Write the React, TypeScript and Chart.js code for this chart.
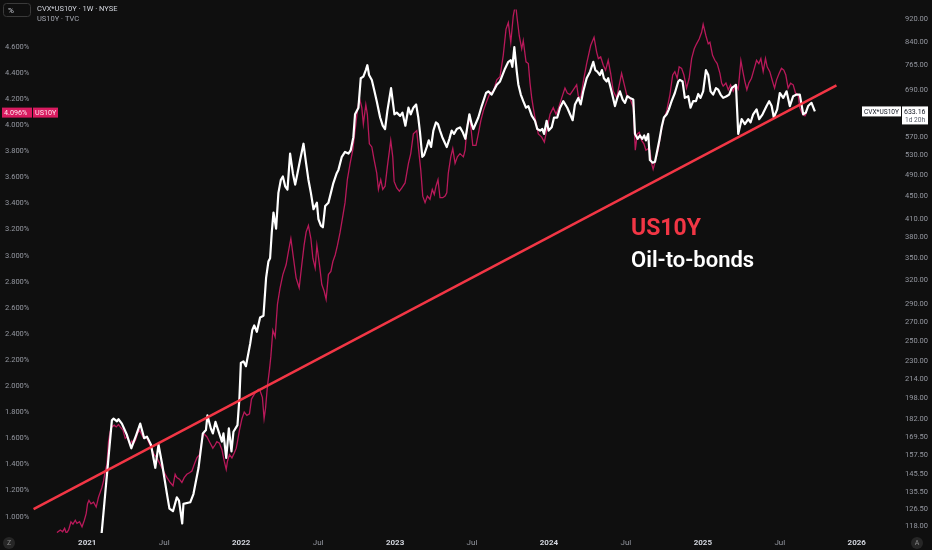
import React, { useEffect, useRef } from "react";
import { Chart, registerables } from "chart.js";

Chart.register(...registerables);

const BG = "#0f0f0f";

// ---- time axis ----
const xTickValues = [2021, 2021.5, 2022, 2022.5, 2023, 2023.5, 2024, 2024.5, 2025, 2025.5, 2026];
const xTickLabels = ["2021", "Jul", "2022", "Jul", "2023", "Jul", "2024", "Jul", "2025", "Jul", "2026"];

// ---- left axis (US10Y, %) ----
const yieldTicks = [1.0, 1.2, 1.4, 1.6, 1.8, 2.0, 2.2, 2.4, 2.6, 2.8, 3.0, 3.2, 3.4, 3.6, 3.8, 4.0, 4.2, 4.4, 4.6];

// ---- right axis (CVX*US10Y, log) ----
const ratioTicks = [920, 840, 765, 690, 570, 530, 490, 450, 410, 380, 350, 320, 290, 270, 250, 230, 214, 198, 182, 169.5, 157.5, 145.5, 135.5, 126.5, 118];

// ---- CVX*US10Y weekly (decimal year, value) ----
const ratioWeeks = [
  2021.078, 2021.160, 2021.171, 2021.193, 2021.203, 2021.225, 2021.258, 2021.286, 2021.318, 2021.344,
  2021.370, 2021.388, 2021.414, 2021.442, 2021.463, 2021.487, 2021.518, 2021.534, 2021.557, 2021.582,
  2021.596, 2021.617, 2021.625, 2021.669, 2021.690, 2021.723, 2021.751, 2021.771, 2021.781, 2021.803,
  2021.816, 2021.833, 2021.875, 2021.885, 2021.903, 2021.920, 2021.937, 2021.950, 2021.976, 2021.989,
  2021.998, 2022.015, 2022.031, 2022.059, 2022.072, 2022.085, 2022.102, 2022.123, 2022.145, 2022.162,
  2022.177, 2022.188, 2022.199, 2022.210, 2022.227, 2022.242, 2022.258, 2022.271, 2022.286, 2022.301,
  2022.318, 2022.336, 2022.351, 2022.366, 2022.383, 2022.405, 2022.422, 2022.437, 2022.453, 2022.470,
  2022.481, 2022.492, 2022.502, 2022.518, 2022.531, 2022.546, 2022.567, 2022.583, 2022.599, 2022.621,
  2022.632, 2022.654, 2022.675, 2022.697, 2022.712, 2022.729, 2022.740, 2022.762, 2022.777, 2022.794,
  2022.810, 2022.820, 2022.831, 2022.849, 2022.864, 2022.881, 2022.903, 2022.920, 2022.935, 2022.950,
  2022.974, 2022.996, 2023.011, 2023.033, 2023.048, 2023.067, 2023.087, 2023.102, 2023.119, 2023.137,
  2023.151, 2023.162, 2023.177, 2023.188, 2023.206, 2023.219, 2023.234, 2023.249, 2023.266, 2023.279,
  2023.292, 2023.307, 2023.336, 2023.353, 2023.368, 2023.383, 2023.401, 2023.422, 2023.440, 2023.457,
  2023.483, 2023.498, 2023.509, 2023.541, 2023.563, 2023.591, 2023.606, 2023.628, 2023.661, 2023.682,
  2023.715, 2023.736, 2023.752, 2023.762, 2023.775, 2023.791, 2023.801, 2023.817, 2023.833, 2023.851,
  2023.866, 2023.888, 2023.909, 2023.924, 2023.942, 2023.957, 2023.968, 2023.985, 2023.998, 2024.018,
  2024.033, 2024.054, 2024.072, 2024.093, 2024.119, 2024.137, 2024.154, 2024.169, 2024.191, 2024.206,
  2024.223, 2024.245, 2024.267, 2024.288, 2024.301, 2024.314, 2024.331, 2024.344, 2024.357, 2024.375,
  2024.385, 2024.401, 2024.414, 2024.429, 2024.444, 2024.461, 2024.479, 2024.494, 2024.509, 2024.526,
  2024.548, 2024.559, 2024.576, 2024.591, 2024.606, 2024.619, 2024.630, 2024.645, 2024.656, 2024.674,
  2024.689, 2024.700, 2024.717, 2024.732, 2024.747, 2024.765, 2024.779, 2024.797, 2024.818, 2024.840,
  2024.851, 2024.868, 2024.883, 2024.905, 2024.920, 2024.937, 2024.955, 2024.970, 2024.985, 2025.002,
  2025.020, 2025.035, 2025.050, 2025.067, 2025.085, 2025.100, 2025.115, 2025.132, 2025.154, 2025.171,
  2025.187, 2025.202, 2025.215, 2025.230, 2025.252, 2025.273, 2025.295, 2025.310, 2025.327, 2025.349,
  2025.366, 2025.388, 2025.414, 2025.431, 2025.447, 2025.461, 2025.483, 2025.500, 2025.522, 2025.544,
  2025.565, 2025.587, 2025.609, 2025.630, 2025.652, 2025.669, 2025.684, 2025.706, 2025.728,
];
const ratioValues = [
  103.1, 181.1, 182.3, 180.4, 181.9, 178.7, 170.6, 161.7, 170.6, 178.7,
  168.4, 169.5, 164.0, 149.4, 164.0, 151.4, 134.3, 126.6, 125.3, 132.5,
  130.8, 119.2, 129.1, 129.9, 134.3, 149.4, 171.7, 174.1, 184.7, 175.2,
  171.7, 179.9, 166.1, 171.7, 155.5, 175.2, 159.6, 172.9, 177.6, 198.7,
  228.4, 230.0, 225.5, 247.3, 261.0, 266.0, 259.2, 274.8, 276.6, 322.5,
  344.5, 349.2, 388.1, 420.4, 393.8, 455.2, 480.1, 486.5, 467.5, 461.4,
  533.8, 493.0, 470.6, 493.0, 519.9, 555.5, 512.9, 480.1, 455.2, 426.0,
  431.7, 437.5, 409.4, 398.7, 396.0, 431.7, 437.5, 455.2, 473.7, 493.0,
  499.6, 526.8, 537.4, 533.8, 541.0, 570.4, 625.9, 642.8, 724.3, 729.2,
  748.6, 763.7, 734.0, 719.4, 691.4, 660.0, 617.7, 597.6, 589.6, 634.4,
  696.0, 625.9, 630.1, 621.8, 630.1, 597.6, 642.8, 625.9, 642.8, 651.3,
  617.7, 581.9, 526.8, 530.4, 548.2, 563.0, 548.2, 585.9, 605.5, 601.4,
  585.9, 570.4, 548.2, 566.6, 585.9, 578.0, 589.6, 593.6, 581.9, 566.6,
  625.9, 601.4, 589.6, 617.7, 647.1, 682.3, 686.9, 677.9, 705.2, 714.9,
  753.7, 774.1, 779.0, 758.8, 821.6, 743.9, 706.3, 677.9, 660.0, 642.8,
  647.1, 622.6, 609.6, 589.6, 585.9, 589.6, 578.0, 609.6, 585.9, 593.6,
  617.7, 617.7, 642.8, 660.0, 642.8, 625.9, 611.0, 651.3, 668.9, 651.3,
  686.9, 724.3, 743.9, 774.1, 748.6, 743.9, 734.0, 748.6, 724.3, 714.9,
  724.3, 696.0, 673.4, 647.1, 668.9, 686.9, 664.4, 655.7, 673.4, 668.9,
  664.4, 578.0, 566.6, 574.3, 566.6, 574.3, 563.0, 578.0, 519.9, 514.3,
  516.4, 533.8, 563.0, 593.6, 617.7, 625.9, 638.5, 660.0, 682.3, 714.9,
  719.4, 714.9, 668.9, 673.4, 642.8, 660.0, 660.0, 679.6, 668.9, 686.9,
  748.6, 734.0, 686.9, 677.9, 696.0, 691.4, 677.9, 668.9, 673.4, 677.9,
  696.0, 700.7, 705.2, 578.0, 613.6, 601.4, 613.6, 605.5, 625.9, 638.5,
  613.6, 625.9, 647.1, 660.0, 647.1, 617.7, 638.5, 682.3, 668.9, 686.9,
  647.1, 673.4, 677.9, 677.9, 625.9, 630.1, 647.1, 655.7, 633.16,
];

// ---- US10Y weekly (decimal year, %) ----
const yieldWeeks = [
  2020.803, 2020.825, 2020.840, 2020.853, 2020.864, 2020.879, 2020.894, 2020.907, 2020.922, 2020.933,
  2020.950, 2020.966, 2020.981, 2020.993, 2021.002, 2021.011, 2021.024, 2021.041, 2021.058, 2021.073,
  2021.084, 2021.095, 2021.106, 2021.117, 2021.128, 2021.138, 2021.149, 2021.160, 2021.175, 2021.188,
  2021.203, 2021.214, 2021.232, 2021.247, 2021.258, 2021.279, 2021.290, 2021.301, 2021.314, 2021.327,
  2021.340, 2021.355, 2021.366, 2021.383, 2021.398, 2021.420, 2021.435, 2021.453, 2021.474, 2021.495,
  2021.518, 2021.539, 2021.557, 2021.571, 2021.582, 2021.599, 2021.615, 2021.630, 2021.647, 2021.664,
  2021.680, 2021.695, 2021.712, 2021.729, 2021.745, 2021.755, 2021.777, 2021.799, 2021.816, 2021.831,
  2021.842, 2021.859, 2021.875, 2021.890, 2021.903, 2021.911, 2021.924, 2021.940, 2021.955, 2021.968,
  2021.976, 2021.989, 2022.005, 2022.020, 2022.037, 2022.054, 2022.067, 2022.080, 2022.093, 2022.112,
  2022.123, 2022.138, 2022.149, 2022.158, 2022.171, 2022.184, 2022.193, 2022.206, 2022.221, 2022.236,
  2022.253, 2022.271, 2022.292, 2022.307, 2022.323, 2022.340, 2022.357, 2022.377, 2022.394, 2022.409,
  2022.422, 2022.437, 2022.453, 2022.466, 2022.481, 2022.492, 2022.509, 2022.524, 2022.539, 2022.552,
  2022.567, 2022.583, 2022.596, 2022.611, 2022.626, 2022.643, 2022.661, 2022.675, 2022.690, 2022.708,
  2022.725, 2022.740, 2022.755, 2022.768, 2022.784, 2022.794, 2022.810, 2022.820, 2022.833, 2022.849,
  2022.864, 2022.881, 2022.892, 2022.907, 2022.920, 2022.935, 2022.950, 2022.972, 2022.985, 2022.994,
  2023.011, 2023.028, 2023.044, 2023.065, 2023.087, 2023.102, 2023.119, 2023.141, 2023.151, 2023.167,
  2023.180, 2023.195, 2023.210, 2023.227, 2023.242, 2023.255, 2023.266, 2023.279, 2023.292, 2023.310,
  2023.325, 2023.336, 2023.346, 2023.362, 2023.375, 2023.390, 2023.405, 2023.422, 2023.444, 2023.455,
  2023.470, 2023.487, 2023.505, 2023.526, 2023.541, 2023.557, 2023.574, 2023.596, 2023.617, 2023.639,
  2023.661, 2023.682, 2023.703, 2023.721, 2023.736, 2023.752, 2023.768, 2023.783, 2023.794, 2023.807,
  2023.823, 2023.833, 2023.851, 2023.866, 2023.877, 2023.888, 2023.898, 2023.909, 2023.931, 2023.953,
  2023.970, 2023.985, 2024.007, 2024.028, 2024.046, 2024.063, 2024.083, 2024.104, 2024.119, 2024.137,
  2024.158, 2024.180, 2024.191, 2024.206, 2024.227, 2024.245, 2024.271, 2024.293, 2024.310, 2024.321,
  2024.336, 2024.353, 2024.368, 2024.385, 2024.401, 2024.418, 2024.440, 2024.457, 2024.472, 2024.487,
  2024.505, 2024.526, 2024.548, 2024.561, 2024.574, 2024.587, 2024.602, 2024.617, 2024.630, 2024.645,
  2024.656, 2024.667, 2024.677, 2024.693, 2024.710, 2024.726, 2024.743, 2024.765, 2024.786, 2024.804,
  2024.818, 2024.833, 2024.846, 2024.862, 2024.877, 2024.894, 2024.911, 2024.927, 2024.944, 2024.959,
  2024.976, 2024.992, 2025.002, 2025.020, 2025.035, 2025.046, 2025.063, 2025.078, 2025.093, 2025.111,
  2025.122, 2025.132, 2025.150, 2025.165, 2025.180, 2025.197, 2025.215, 2025.230, 2025.247, 2025.260,
  2025.273, 2025.286, 2025.299, 2025.316, 2025.331, 2025.349, 2025.364, 2025.377, 2025.392, 2025.407,
  2025.418, 2025.435, 2025.453, 2025.466, 2025.479, 2025.496, 2025.511, 2025.526, 2025.539, 2025.554,
  2025.570, 2025.587, 2025.602, 2025.619, 2025.630, 2025.648, 2025.663, 2025.674,
];
const yieldValues = [
  0.878, 0.898, 0.885, 0.911, 0.873, 0.898, 0.961, 0.943, 0.973, 0.949,
  0.961, 0.923, 0.973, 1.024, 1.099, 1.124, 1.099, 1.111, 1.074, 1.149,
  1.186, 1.224, 1.275, 1.350, 1.400, 1.575, 1.651, 1.688, 1.701, 1.688,
  1.706, 1.688, 1.663, 1.600, 1.613, 1.551, 1.581, 1.563, 1.588, 1.638,
  1.663, 1.626, 1.600, 1.613, 1.575, 1.513, 1.475, 1.450, 1.400, 1.350,
  1.299, 1.262, 1.237, 1.325, 1.299, 1.287, 1.262, 1.299, 1.325, 1.337,
  1.350, 1.400, 1.450, 1.475, 1.575, 1.638, 1.613, 1.563, 1.525, 1.551,
  1.575, 1.563, 1.513, 1.425, 1.362, 1.425, 1.475, 1.450, 1.488, 1.525,
  1.575, 1.663, 1.751, 1.801, 1.776, 1.788, 1.901, 1.927, 1.952, 1.976,
  1.964, 1.914, 1.751, 1.826, 2.002, 2.127, 2.228, 2.428, 2.378, 2.629,
  2.754, 2.855, 2.930, 3.030, 3.131, 2.980, 2.830, 2.754, 2.930, 3.080,
  3.180, 3.231, 3.131, 2.980, 2.905, 3.080, 2.930, 2.779, 2.729, 2.666,
  2.855, 2.879, 2.955, 3.005, 3.080, 3.180, 3.306, 3.406, 3.582, 3.707,
  3.808, 3.958, 4.109, 4.209, 4.134, 4.008, 4.158, 4.083, 3.857, 3.833,
  3.733, 3.632, 3.507, 3.582, 3.507, 3.532, 3.682, 3.883, 3.757, 3.569,
  3.519, 3.494, 3.519, 3.557, 3.707, 3.782, 3.933, 3.958, 3.833, 3.657,
  3.456, 3.406, 3.456, 3.432, 3.507, 3.469, 3.532, 3.582, 3.444, 3.444,
  3.456, 3.481, 3.632, 3.757, 3.820, 3.707, 3.757, 3.782, 3.757, 3.808,
  4.008, 4.046, 3.845, 3.845, 3.933, 4.033, 4.111, 4.184, 4.246, 4.259,
  4.347, 4.372, 4.535, 4.736, 4.786, 4.635, 4.836, 4.930, 4.811, 4.685,
  4.585, 4.647, 4.485, 4.472, 4.322, 4.209, 4.134, 4.058, 3.933, 3.908,
  3.870, 3.958, 4.083, 4.134, 4.083, 4.134, 4.209, 4.284, 4.246, 4.234,
  4.271, 4.309, 4.222, 4.209, 4.359, 4.472, 4.610, 4.673, 4.560, 4.510,
  4.523, 4.459, 4.422, 4.497, 4.397, 4.259, 4.209, 4.309, 4.397, 4.322,
  4.234, 4.209, 4.134, 3.808, 3.933, 3.945, 3.883, 3.857, 3.808, 3.820,
  3.808, 3.707, 3.662, 3.733, 3.808, 3.933, 4.033, 4.109, 4.234, 4.384,
  4.410, 4.359, 4.447, 4.435, 4.384, 4.284, 4.359, 4.510, 4.585, 4.623,
  4.660, 4.711, 4.773, 4.685, 4.623, 4.635, 4.535, 4.497, 4.472, 4.397,
  4.322, 4.299, 4.322, 4.271, 4.309, 4.259, 4.309, 4.277, 4.495, 4.410,
  4.334, 4.271, 4.322, 4.359, 4.422, 4.497, 4.472, 4.510, 4.410, 4.510,
  4.447, 4.410, 4.334, 4.284, 4.347, 4.397, 4.435, 4.422, 4.384, 4.284,
  4.322, 4.309, 4.246, 4.234, 4.134, 4.083, 4.071, 4.096,
];

// ---- drawn trend line (two anchor points on the ratio scale) ----
const trendWeeks = [2020.651, 2025.868];
const trendValues = [126.3, 703.6];

const FONT = "Roboto, 'Noto Sans', sans-serif";

const overlayPlugin = {
  id: "overlay",
  beforeDraw(chart: any) {
    const c = chart.ctx;
    c.save();
    c.fillStyle = BG;
    c.fillRect(0, 0, chart.width, chart.height);
    c.restore();
  },
  afterDraw(chart: any) {
    const c = chart.ctx;
    const yl = chart.scales.y;
    const yr = chart.scales.y1;
    c.save();
    c.textBaseline = "middle";
    c.textAlign = "left";

    // header
    c.strokeStyle = "#3a3a3a";
    c.lineWidth = 1;
    c.beginPath();
    c.roundRect(3.5, 3.5, 27, 13, 3);
    c.stroke();
    c.font = `8px ${FONT}`;
    c.fillStyle = "#d1d4dc";
    c.fillText("%", 8, 10.5);
    c.font = `7.5px ${FONT}`;
    c.fillStyle = "#d1d4dc";
    c.fillText("CVX*US10Y · 1W · NYSE", 37, 9.5);
    c.fillStyle = "#a3a6af";
    c.fillText("US10Y · TVC", 37, 19.5);

    // last-value label, US10Y (left)
    const lastYield = yieldValues[yieldValues.length - 1];
    const py = yl.getPixelForValue(lastYield);
    c.fillStyle = "#d81b60";
    c.fillRect(2, py - 5, 30, 10);
    c.fillRect(33, py - 5, 25, 10);
    c.fillStyle = "#ffe6ef";
    c.font = `7.2px ${FONT}`;
    c.fillText(lastYield.toFixed(3) + "%", 4, py + 0.5);
    c.fillText("US10Y", 35, py + 0.5);

    // last-value label, CVX*US10Y (right)
    const lastRatio = ratioValues[ratioValues.length - 1];
    const ry = yr.getPixelForValue(lastRatio);
    c.fillStyle = "#ffffff";
    c.fillRect(862, ry - 5, 39, 10);
    c.fillRect(902, ry - 5, 26, 18);
    c.font = `6.6px ${FONT}`;
    c.fillStyle = "#131722";
    c.fillText("CVX*US10Y", 864, ry + 0.5);
    c.font = `7px ${FONT}`;
    c.fillText(lastRatio.toFixed(2), 904, ry + 0.5);
    c.fillStyle = "#555a66";
    c.font = `6.6px ${FONT}`;
    c.fillText("1d 20h", 905, ry + 8.5);

    // corner buttons
    c.fillStyle = "#262626";
    c.beginPath();
    c.arc(9, 543, 6, 0, Math.PI * 2);
    c.fill();
    c.beginPath();
    c.arc(917, 543, 6, 0, Math.PI * 2);
    c.fill();
    c.fillStyle = "#8a8a8a";
    c.font = `7px ${FONT}`;
    c.textAlign = "center";
    c.fillText("Z", 9, 543.5);
    c.fillText("A", 917, 543.5);

    // annotations
    c.textAlign = "left";
    c.textBaseline = "alphabetic";
    c.font = `bold 23px ${FONT}`;
    c.fillStyle = "#f23645";
    c.fillText("US10Y", 631, 235);
    c.font = `600 22px ${FONT}`;
    c.fillStyle = "#ffffff";
    c.fillText("Oil-to-bonds", 631, 267);
    c.restore();
  },
};

export default function App() {
  const ref = useRef<HTMLCanvasElement>(null);

  useEffect(() => {
    document.body.style.margin = "0";
    document.body.style.background = BG;
    const canvas = ref.current;
    if (!canvas) return;

    const chart = new Chart(canvas, {
      type: "line",
      data: {
        datasets: [
          {
            label: "Trend",
            data: trendWeeks.map((x, i) => ({ x, y: trendValues[i] })),
            yAxisID: "y1",
            borderColor: "#f23645",
            borderWidth: 2.5,
            pointRadius: 0,
            order: 0,
          },
          {
            label: "CVX*US10Y",
            data: ratioWeeks.map((x, i) => ({ x, y: ratioValues[i] })),
            yAxisID: "y1",
            borderColor: "#ffffff",
            borderWidth: 2.2,
            pointRadius: 0,
            borderJoinStyle: "round",
            order: 1,
          },
          {
            label: "US10Y",
            data: yieldWeeks.map((x, i) => ({ x, y: yieldValues[i] })),
            yAxisID: "y",
            borderColor: "#b8195a",
            borderWidth: 1.3,
            pointRadius: 0,
            order: 2,
          },
        ],
      },
      options: {
        responsive: false,
        animation: false,
        events: [],
        layout: { padding: 0 },
        plugins: {
          legend: { display: false },
          tooltip: { enabled: false },
        },
        scales: {
          x: {
            type: "linear",
            position: "bottom",
            min: 2020.433,
            max: 2026.281,
            grid: { display: false, drawTicks: false },
            border: { display: false },
            afterBuildTicks: (s: any) => {
              s.ticks = xTickValues.map((v) => ({ value: v }));
            },
            afterFit: (s: any) => {
              s.height = 17;
            },
            ticks: {
              autoSkip: false,
              maxRotation: 0,
              padding: 5,
              callback: (_v: any, i: number) => xTickLabels[i],
              color: (ctx: any) => (xTickLabels[ctx.index] === "Jul" ? "#9598a1" : "#d1d4dc"),
              font: (ctx: any) => ({
                family: FONT,
                size: 8,
                weight: xTickLabels[ctx.index] === "Jul" ? "normal" : "bold",
              }),
            },
          },
          y: {
            type: "linear",
            position: "left",
            min: 0.875,
            max: 4.886,
            grid: { display: false, drawTicks: false },
            border: { display: false },
            afterBuildTicks: (s: any) => {
              s.ticks = yieldTicks.map((v) => ({ value: v }));
            },
            afterFit: (s: any) => {
              s.width = 0;
            },
            ticks: {
              mirror: true,
              padding: 5,
              color: "#9598a1",
              font: { family: FONT, size: 7.5 },
              callback: (v: any) => Number(v).toFixed(3) + "%",
            },
          },
          y1: {
            type: "logarithmic",
            position: "right",
            min: 114.7,
            max: 957,
            grid: { display: false, drawTicks: false },
            border: { display: false },
            afterBuildTicks: (s: any) => {
              s.ticks = ratioTicks.map((v) => ({ value: v }));
            },
            afterFit: (s: any) => {
              s.width = 32;
            },
            ticks: {
              padding: 5,
              color: "#9598a1",
              font: { family: FONT, size: 7.5 },
              callback: (v: any) => Number(v).toFixed(2),
            },
          },
        },
      },
      plugins: [overlayPlugin],
    } as any);

    return () => chart.destroy();
  }, []);

  return (
    <div style={{ width: 932, height: 550, background: BG }}>
      <canvas ref={ref} width={932} height={550} style={{ display: "block", width: 932, height: 550 }} />
    </div>
  );
}
